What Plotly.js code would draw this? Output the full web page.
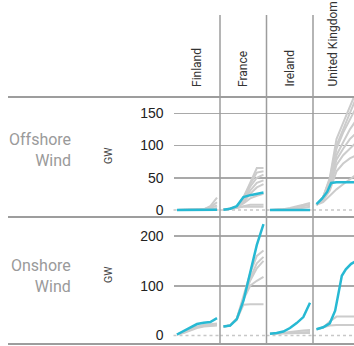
<!DOCTYPE html>
<html>
<head>
<meta charset="utf-8">
<script src="https://cdn.plot.ly/plotly-3.0.1.min.js"></script>
<style>
  html, body { margin: 0; padding: 0; background: #fff; overflow: hidden; }
  #chart { width: 362px; height: 346px; }
</style>
</head>
<body>
<div id="chart"></div>
<script>
// Installed wind capacity (GW) by scenario, per country and technology
const countries = ['Finland', 'France', 'Ireland', 'United Kingdom'];
const technologies = ['Offshore<br>Wind', 'Onshore<br>Wind'];
const unitLabel = 'GW';
const years = [2020, 2025, 2030, 2035, 2040, 2045, 2050];

const offshoreTicks = [0, 50, 100, 150];
const onshoreTicks = [0, 100, 200];

// Offshore wind: highlighted pathway (years + values) and other scenarios
const offFinlandYears = years;
const offFinland = [0.1, 0.1, 0.1, 0.1, 0.1, 0.2, 0.3];
const offFinlandOthers = [
  [0, 0, 0, 0, 1, 6, 19],
  [0, 0, 0, 0, 1, 4, 12],
  [0, 0, 0, 0, 1, 3, 7],
  [0, 0, 0, 0, 0, 1, 3]
];
const offFranceYears = years;
const offFrance = [0.5, 2, 6, 20, 23, 25, 27];
const offFranceOthers = [
  [0.5, 2, 5, 20, 42, 65, 65],
  [0.5, 2, 5, 18, 40, 58, 60],
  [0.5, 2, 5, 16, 36, 50, 55],
  [0.5, 2, 4, 14, 30, 42, 46],
  [0.5, 2, 4, 12, 25, 35, 40],
  [0.5, 2, 4, 10, 18, 22, 25],
  [0.5, 2, 3, 6, 8, 8, 8],
  [0.5, 2, 3, 5, 5, 5, 5]
];
const offIrelandYears = years;
const offIreland = [0.1, 0.1, 0.1, 0.1, 0.1, 0.1, 0.1];
const offIrelandOthers = [
  [0, 0, 1, 3, 5, 8, 11],
  [0, 0, 1, 2, 4, 6, 8],
  [0, 0, 0, 1, 2, 3, 5]
];
const offUKYears = [2020, 2024, 2028, 2031, 2035, 2040, 2045, 2050];
const offUK = [9, 17, 28, 42, 43, 43, 43, 43];
const offUKOthers = [
  [8, 20, 50, 110, 135, 160, 185],
  [8, 20, 48, 100, 125, 150, 175],
  [8, 20, 45, 95, 120, 140, 160],
  [8, 18, 42, 85, 105, 125, 140],
  [8, 18, 40, 78, 95, 110, 120],
  [8, 16, 35, 70, 85, 95, 105],
  [8, 15, 30, 60, 72, 80, 85],
  [8, 12, 22, 32, 40, 48, 55]
];

// Onshore wind
const onFinlandYears = years;
const onFinland = [2, 9, 17, 23, 25.5, 27, 35];
const onFinlandOthers = [
  [2, 7, 13, 18, 21, 22, 24],
  [2, 6, 12, 17, 19, 20, 21],
  [2, 5, 10, 15, 18, 19, 20]
];
const onFranceYears = years;
const onFrance = [18, 20, 33, 70, 126, 182, 224];
const onFranceOthers = [
  [18, 20, 32, 62, 63, 63, 63],
  [18, 20, 33, 72, 100, 110, 118],
  [18, 20, 33, 76, 115, 145, 158],
  [18, 20, 34, 80, 125, 160, 171],
  [18, 20, 33, 74, 110, 135, 150]
];
const onIrelandYears = years;
const onIreland = [3.5, 5, 8, 15, 25, 37, 66];
const onIrelandOthers = [
  [3.5, 4, 5, 7, 9, 10, 11],
  [3.5, 4, 5, 6, 7, 7, 7],
  [3.5, 4, 4.5, 5, 5, 5, 5]
];
const onUKYears = [2020, 2025, 2030, 2034, 2036, 2039, 2042, 2046, 2050];
const onUK = [12.5, 16.5, 24.5, 50, 78, 120, 133, 144, 150];
const onUKOthers = [
  [12.5, 16, 28, 38, 38, 38, 38],
  [12.5, 16, 20, 21, 21, 21, 21]
];

// Panel grid: [technology row][country column]
const panels = [
  [
    [offFinlandYears, offFinland, offFinlandOthers],
    [offFranceYears, offFrance, offFranceOthers],
    [offIrelandYears, offIreland, offIrelandOthers],
    [offUKYears, offUK, offUKOthers]
  ],
  [
    [onFinlandYears, onFinland, onFinlandOthers],
    [onFranceYears, onFrance, onFranceOthers],
    [onIrelandYears, onIreland, onIrelandOthers],
    [onUKYears, onUK, onUKOthers]
  ]
];

// ---- layout geometry (pixels) ----
const W = 362, H = 346;
const colLeft = [173.5, 220, 266.5, 313];
const colW = 46.5;
const rowTop = [97, 217];
const rowBottom = [217, 344];
const rowRange = [[-10.9, 175.3], [-17.1, 238.2]];
const rowTicks = [offshoreTicks, onshoreTicks];
const xRange = [2017.4, 2052.25];

const px = p => p / W;
const py = p => 1 - p / H;

const narrow = 'Roboto, "Liberation Sans Narrow", "DejaVu Sans Condensed", sans-serif';
const regular = '"Liberation Sans", Arial, Helvetica, sans-serif';

const GREY_LINE = '#cccccc';
const HIGHLIGHT = '#27b9d3';
const GRID = '#a9a9a9';
const RULE = '#9d9d9d';

const traces = [];
const layout = {
  width: W, height: H,
  margin: {l: 0, r: 0, t: 0, b: 0},
  paper_bgcolor: '#fff', plot_bgcolor: 'rgba(0,0,0,0)',
  showlegend: false,
  hovermode: false,
  shapes: [],
  annotations: []
};

for (let r = 0; r < 2; r++) {
  for (let c = 0; c < 4; c++) {
    const k = r * 4 + c + 1;
    const xn = k === 1 ? 'x' : 'x' + k;
    const yn = k === 1 ? 'y' : 'y' + k;
    layout[k === 1 ? 'xaxis' : 'xaxis' + k] = {
      domain: [px(colLeft[c]), px(colLeft[c] + colW)],
      range: xRange, anchor: yn, visible: false, fixedrange: true
    };
    layout[k === 1 ? 'yaxis' : 'yaxis' + k] = {
      domain: [py(rowBottom[r]), py(rowTop[r])],
      range: rowRange[r], anchor: xn,
      tickmode: 'array', tickvals: rowTicks[r],
      showticklabels: c === 0,
      ticks: '', ticklabelstandoff: 9,
      tickfont: {family: regular, size: 14, color: '#222'},
      showgrid: true, gridcolor: GRID, gridwidth: 1.5,
      zeroline: true, zerolinecolor: 'rgba(0,0,0,0)',
      showline: false, fixedrange: true
    };

    // dotted baseline at zero
    layout.shapes.push({
      type: 'line', layer: 'below',
      xref: xn + ' domain', x0: 0, x1: 1,
      yref: yn, y0: 0, y1: 0,
      line: {color: '#c8c8c8', width: 1.5, dash: 'dot'}
    });

    const [hx, hy, others] = panels[r][c];
    others.forEach(vals => traces.push({
      type: 'scatter', mode: 'lines', x: years, y: vals,
      xaxis: xn, yaxis: yn, hoverinfo: 'skip',
      line: {color: GREY_LINE, width: 2}
    }));
    traces.push({
      type: 'scatter', mode: 'lines', x: hx, y: hy,
      xaxis: xn, yaxis: yn, hoverinfo: 'skip',
      line: {color: HIGHLIGHT, width: 2.5}
    });
  }
}

// column separators
[220, 266.5, 313].forEach(x => layout.shapes.push({
  type: 'line', xref: 'paper', yref: 'paper',
  x0: px(x), x1: px(x), y0: py(15), y1: py(344),
  line: {color: RULE, width: 1.5}
}));
// row rules
[97, 217, 344].forEach(y => layout.shapes.push({
  type: 'line', xref: 'paper', yref: 'paper',
  x0: px(8), x1: 1, y0: py(y), y1: py(y),
  line: {color: RULE, width: 2}
}));

// country headers
const headerX = [196.5, 243, 289.5, 332];
countries.forEach((name, c) => layout.annotations.push({
  text: name, showarrow: false, textangle: -90,
  xref: 'paper', yref: 'paper', x: px(headerX[c]), y: py(89),
  xanchor: 'center', yanchor: 'bottom',
  font: {family: narrow, size: 12, color: '#333'}
}));

// technology labels and units
const techY = [150, 276];
const unitY = [156, 275];
technologies.forEach((t, r) => {
  layout.annotations.push({
    text: t, showarrow: false, align: 'right',
    xref: 'paper', yref: 'paper', x: px(73), y: py(techY[r]),
    xanchor: 'right', yanchor: 'middle',
    font: {family: narrow, size: 16, color: '#9a9a9a'}
  });
  layout.annotations.push({
    text: unitLabel, showarrow: false, textangle: -90,
    xref: 'paper', yref: 'paper', x: px(108), y: py(unitY[r]),
    xanchor: 'center', yanchor: 'middle',
    font: {family: narrow, size: 10.5, color: '#444'}
  });
});

Plotly.newPlot('chart', traces, layout, {staticPlot: true, displayModeBar: false});
</script>
</body>
</html>
